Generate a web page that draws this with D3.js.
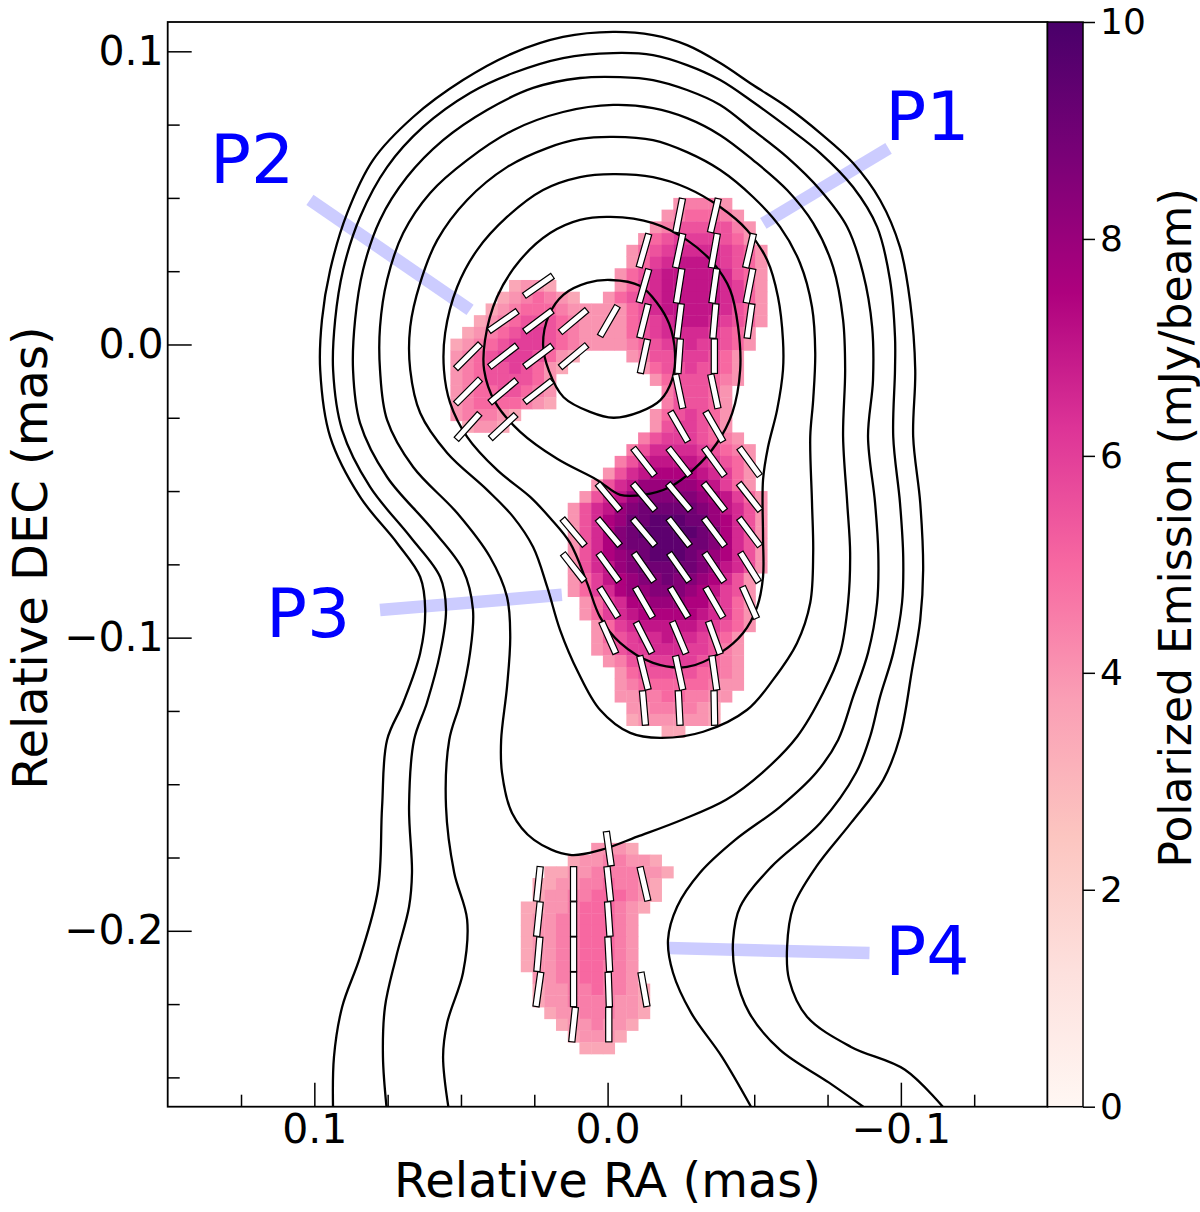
<!DOCTYPE html>
<html>
<head>
<meta charset="utf-8">
<script src="https://cdn.jsdelivr.net/npm/d3@7"></script>
<style>
  body { margin: 0; background: #fff; }
  text { font-family: "DejaVu Sans", sans-serif; }
</style>
</head>
<body>
<svg id="chart"></svg>
<script>

var width = 1200;
var height = 1212;

//..................................................................................//
// data

// axis ranges in mas, RA grows to the left
var raRange = [0.15, -0.15];
var decRange = [-0.26, 0.11];
var raTicks = [0.1, 0.0, -0.1];
var decTicks = [0.1, 0.0, -0.1, -0.2];
var cbarRange = [0, 10];
var cbarTicks = [0, 2, 4, 6, 8, 10];

var raLabel = "Relative RA (mas)";
var decLabel = "Relative DEC (mas)";
var cbarLabel = "Polarized Emission (mJy/beam)";

// polarized intensity map: cells of 0.004 mas
// [row (dec = row * step), [[first column (ra = col * step + raShift), letters westward]]]
// letter value = (code - 'a') / 2 mJy/beam
var step = 0.004;
var raShift = -0.0004;
var polRows = [
    [12, [[-6, "ijjji"]]],
    [11, [[-5, "ijkkkji"]]],
    [10, [[-4, "ijlllllji"]]],
    [9, [[-3, "iklmmmmlki"]]],
    [8, [[-2, "iklmnnnnmlki"]]],
    [7, [[-2, "ikmnooonmlki"]]],
    [6, [[-1, "iklnooooonlki"]]],
    [5, [[8, "hiih"], [-1, "ikmnooooonmki"]]],
    [4, [[9, "hijkjih"], [0, "iklmnooooonmki"]]],
    [3, [[10, "hijkkkji" + "iii" + "iklnooooonlki"]]],
    [2, [[11, "hijklllkj" + "iii" + "iklmnooonmlki"]]],
    [1, [[12, "hijklmmlkj" + "iii" + "iklmnnnnmlki"]]],
    [0, [[13, "hijklmmmlkj" + "iii" + "ijklmmnmmlki"]]],
    [-1, [[13, "ijklmmmlkih"], [-2, "ijllmmmlki"]]],
    [-2, [[13, "ijkllmlkih"], [-3, "ikllmllki"]]],
    [-3, [[13, "ijkllllki"], [-4, "iklllkji"]]],
    [-4, [[13, "ijkkllkji"], [-5, "jlllki"]]],
    [-5, [[13, "ijkkkkjih"], [-5, "jlllki"]]],
    [-6, [[13, "ijjjih"], [-4, "iklmlki"]]],
    [-7, [[12, "hiih"], [-4, "ilmmlki"]]],
    [-8, [[-3, "jlmmmlkji"]]],
    [-9, [[-2, "jlnnnnmlkji"]]],
    [-10, [[-1, "jlnoooonmlki"]]],
    [-11, [[0, "ilnopppponmki"]]],
    [-12, [[1, "ilnoqqqqqpomki"]]],
    [-13, [[2, "ilnoqrrrrrqpomki"]]],
    [-14, [[3, "ilnoqrsssssrqonli"]]],
    [-15, [[3, "ilnpqsstttssqpnli"]]],
    [-16, [[3, "ilnprstttttsrpnli"]]],
    [-17, [[3, "ilnprsstttssrpnli"]]],
    [-18, [[3, "ilnpqrstttsrqpnli"]]],
    [-19, [[3, "ilnoqrsssssrqonli"]]],
    [-20, [[3, "ikmopqrrsrrqpnli"]]],
    [-21, [[3, "ikmnpqqrrrqpomli"]]],
    [-22, [[2, "ikmnppqqqppnmki"]]],
    [-23, [[2, "ikmnoppppponmki"]]],
    [-24, [[1, "ikmnooooonmlki"]]],
    [-25, [[1, "iklmnnonnmlki"]]],
    [-26, [[1, "ijlmmnnnmmlji"]]],
    [-27, [[0, "ijllmmmmlkji"]]],
    [-28, [[-1, "iklllllkkji"]]],
    [-29, [[-1, "ijkkkkkkjii"]]],
    [-30, [[-1, "iijjkkjjii"]]],
    [-31, [[-2, "iijjjjih"]]],
    [-32, [[-2, "hiiiiiih"]]],
    [-33, [[-5, "hh"]]],
    [-43, [[1, "iiih"]]],
    [-44, [[3, "hiijjiih"]]],
    [-45, [[5, "hhiijjjjiih"]]],
    [-46, [[6, "hhiijjkjjih"]]],
    [-47, [[6, "hiijjkkkjih"]]],
    [-48, [[7, "hhiijkkkjih"]]],
    [-49, [[7, "hiijjkkkji"]]],
    [-50, [[7, "hiijjkkkji"]]],
    [-51, [[7, "hiijjkkkji"]]],
    [-52, [[7, "hiijjkkkji"]]],
    [-53, [[7, "hiijjkkjji"]]],
    [-54, [[6, "iijjkkjji"]]],
    [-55, [[6, "hiijjkjjih"]]],
    [-56, [[6, "hiijjjjiih"]]],
    [-57, [[5, "hiijjjiih"]]],
    [-58, [[4, "hiijiih"]]],
    [-59, [[3, "hiiih"]]],
    [-60, [[2, "hhh"]]]
];

// EVPA sticks, degrees from north through east, on every third cell
var evpaCols = [12, 9, 6, 3, 0, -3, -6, -9, -12];
var evpaRows = [
    [11, [null, null, null, null, null, null, -11, -13, null]],
    [8, [null, null, null, null, null, -16, -12, -10, -13]],
    [5, [null, null, -55, null, null, -16, -9, -8, -11]],
    [2, [null, -55, -53, -50, -30, -14, -7, -5, -8]],
    [-1, [-45, -52, -53, -50, null, -12, -4, 0, null]],
    [-4, [-45, -50, -52, null, null, null, 12, 12, null]],
    [-7, [-42, -47, null, null, null, null, 30, 30, null]],
    [-10, [null, null, null, null, null, 38, 38, 36, 36]],
    [-13, [null, null, null, null, 40, 40, 40, 38, 38]],
    [-16, [null, null, null, 40, 40, 40, 38, 37, 37]],
    [-19, [null, null, null, 38, 36, 35, 35, 34, 32]],
    [-22, [null, null, null, null, 32, 30, 31, 30, 24]],
    [-25, [null, null, null, null, 24, 27, 23, 20, null]],
    [-28, [null, null, null, null, null, 14, 12, 8, null]],
    [-31, [null, null, null, null, null, 5, 3, 1, null]],
    [-43, [null, null, null, null, 8, null, null, null, null]],
    [-46, [null, null, -6, 0, 6, 13, null, null, null]],
    [-49, [null, null, -6, 0, 4, null, null, null, null]],
    [-52, [null, null, -5, 0, 3, null, null, null, null]],
    [-55, [null, null, -8, 0, 2, 10, null, null, null]],
    [-58, [null, null, null, -6, 0, null, null, null, null]]
];

// total intensity contours, vertices in micro-arcsec [ra, dec]
var ring1 = [[-1, 22], [-11, 20], [-17, 14], [-21, 7], [-23, -3], [-22, -12], [-18, -19], [-11, -23], [-2, -25], [6, -23], [15, -18], [20, -9], [22, 0], [20, 10], [15, 17], [7, 21]];
var ring2 = [[-1, 43.5], [-15.5, 41.4], [-27.1, 35.6], [-36, 27.8], [-41.8, 18.6], [-44.5, 6], [-45.2, -8.7], [-42.5, -23.4], [-37.3, -33.6], [-29.2, -42.8], [-21.3, -48.6], [-12.1, -51.3], [-4.3, -51.3], [3.6, -46.2], [17.2, -39], [29.8, -29.8], [38.4, -19.6], [42.1, -8.7], [41.8, 1.5], [37.7, 16.2], [29.8, 28.8], [19.6, 38], [9.4, 42.5]];
var ring3 = [[-1.9, 58.1], [-15.5, 57.1], [-27.1, 53.4], [-38.4, 46.9], [-47.6, 39], [-54.4, 28.8], [-58.1, 16.2], [-59.8, 1.5], [-59.8, -8.7], [-57.8, -22.3], [-54.7, -35], [-53, -46.2], [-53, -65.6], [-53, -79.3], [-51, -89.5], [-46.2, -98.4], [-38.4, -105.2], [-27.1, -110], [-15.5, -108.6], [-4.3, -101.8], [2.6, -92.9], [7, -81.3], [12.8, -67.7], [19.6, -59.2], [26.4, -52], [37.7, -42.8], [47.9, -31.5], [53.7, -19.9], [55.8, -8.7], [55.4, 3.9], [51.3, 19.6], [44.5, 32.2], [34.3, 43.5], [22, 52.7], [9.4, 57.1]];
var ring4 = [[-1.9, 70.8], [-15.5, 69.7], [-27.1, 65.6], [-38.4, 59.5], [-49.6, 50.3], [-58.8, 40.1], [-65.6, 27.8], [-69.7, 12.8], [-70.8, -2.9], [-70.1, -18.9], [-69.1, -31.5], [-69.7, -54], [-70.1, -71.1], [-69.1, -88.1], [-64.6, -101.8], [-56.4, -114.4], [-47.6, -124.6], [-32.6, -132.1], [-17.9, -134.2], [-7.7, -132.5], [2.6, -124.6], [10.1, -111.7], [16.2, -97.4], [20.6, -82.7], [25.4, -69.1], [32.2, -58.8], [41.1, -49.6], [54.7, -37], [63.9, -23.4], [67.3, -8.7], [67.3, 6], [63.9, 21], [58.1, 35.6], [47.9, 49.3], [34.3, 60.5], [20.6, 67], [9.4, 70.1]];
var ring5 = [[-1.9, 81.7], [-15.5, 80.6], [-27.1, 77.2], [-38.4, 71.4], [-49.6, 62.9], [-61.2, 52.7], [-70.1, 41.4], [-76.9, 26.4], [-80.3, 8.4], [-81, -8.7], [-80.3, -31.5], [-81.7, -54], [-82.7, -71.1], [-82, -88.1], [-79.3, -105.2], [-73.5, -118.8], [-64.6, -133.8], [-52.7, -146.1], [-40.4, -155.3], [-25.4, -162.1], [-10.1, -167.9], [2.2, -172.4], [12.8, -174.1], [25.1, -169], [32.6, -159.8], [36, -146.1], [36.3, -134.9], [34.3, -116.8], [33.2, -99.7], [34.3, -86.1], [40.1, -72.5], [51.3, -57.5], [66.3, -41.8], [75.2, -25.7], [77.6, -8.7], [77.6, 6], [75.2, 22], [69.7, 38], [60.5, 51.7], [47.9, 62.9], [32.2, 73.1], [15.2, 79.3]];
var ring6 = [[54, -262], [56.1, -243], [54.7, -231.4], [49.3, -214.3], [47.9, -196.2], [52.3, -180.2], [55.1, -157.7], [54, -134.9], [50.3, -122.2], [46.9, -105.2], [45.9, -90.5], [49.3, -76.9], [60.5, -62.2], [75.2, -45.2], [84.4, -26.8], [86.8, -8.7], [86.1, 8.4], [83.4, 25.4], [77.6, 42.5], [68.4, 57.1], [56.1, 69.7], [41.1, 80], [25.4, 87.5], [9.4, 90.9], [-4.3, 91.2], [-15.5, 90.2], [-27.1, 86.8], [-38.4, 81.7], [-49.6, 73.1], [-61.2, 63.9], [-72.5, 52.7], [-81.7, 40.1], [-87.1, 24.4], [-90.2, 6], [-90.5, -12.1], [-88.8, -31.5], [-91.2, -54], [-92.3, -71.1], [-91.9, -88.1], [-88.8, -105.2], [-83.7, -120.2], [-78.6, -134.9], [-71.1, -146.1], [-58.8, -157.7], [-43.5, -169], [-31.5, -180.2], [-23.7, -191.8], [-20.6, -203.1], [-22.3, -214.3], [-28.5, -228], [-39, -243], [-50, -262]];
var ring7 = [[75.2, -262], [76.6, -243], [75.9, -225.9], [72.1, -208.9], [67.7, -191.8], [66.7, -180.2], [67.7, -157.7], [66, -134.9], [61.6, -122.2], [57.1, -105.2], [55.1, -90.5], [57.1, -79.3], [67.3, -65.6], [81, -48.6], [90.5, -29.2], [93.6, -8.7], [92.9, 8.4], [90.2, 25.4], [84.4, 43.5], [75.2, 60.5], [62.9, 74.2], [46.9, 85.8], [32.2, 92.6], [15.2, 97.7], [-1.9, 99.4], [-15.5, 98.7], [-27.1, 95.3], [-38.4, 90.2], [-49.6, 82.7], [-61.2, 74.2], [-72.5, 65.3], [-83.7, 53.7], [-91.9, 40.1], [-96.3, 22], [-98, 2.6], [-98, -8.7], [-97.4, -31.5], [-99.7, -54], [-100.8, -72.5], [-100.4, -88.1], [-97.4, -105.2], [-92.9, -120.2], [-89.5, -133.8], [-84.7, -146.1], [-72.5, -163.2], [-55.8, -178.2], [-45.2, -191.8], [-42.8, -203.1], [-43.5, -214.3], [-48.3, -228], [-58.8, -240.6], [-75.5, -251.8], [-90, -262]];
var ring8 = [[93.6, -262], [93.3, -243], [90.5, -225.9], [84.4, -208.9], [78.3, -186], [76.9, -157.7], [75.2, -134.9], [69.7, -122.2], [63.9, -105.2], [62.2, -90.5], [63.9, -79.3], [71.8, -67.7], [84.4, -52], [94.6, -31.5], [98, -8.7], [97.4, 8.4], [94.6, 25.4], [88.8, 44.8], [80, 62.9], [66.3, 77.6], [49.3, 90.2], [32.2, 99.4], [15.2, 104.9], [-1.9, 106.6], [-15.5, 105.5], [-27.1, 102.1], [-38.4, 96], [-49.6, 88.5], [-61.2, 81], [-72.5, 72.1], [-83.7, 61.9], [-92.9, 49.3], [-99.7, 33.2], [-103.2, 14.2], [-104.9, -8.7], [-104.2, -31.5], [-106.6, -54], [-107.6, -76.9], [-106.6, -94], [-103.8, -111], [-99.7, -133.8], [-94, -148.5], [-83, -163.2], [-71.1, -178.2], [-63.3, -191.8], [-61.2, -205.5], [-61.9, -216.7], [-68, -229.3], [-83, -239.6], [-101.4, -247.4], [-116, -262]];
var closedRings = [ring1, ring2, ring3, ring4, ring5];
var openRings = [ring6, ring7, ring8];

// component labels, positions in mas
var labelNames = ["P1", "P2", "P3", "P4"];
var labelText = [[-0.0947, 0.0698], [0.1356, 0.0550], [0.1165, -0.0997], [-0.0947, -0.2150]];
var labelLineFrom = [[-0.0531, 0.0413], [0.1015, 0.0493], [0.0776, -0.0906], [-0.0208, -0.2059]];
var labelLineTo = [[-0.0958, 0.0669], [0.0469, 0.0118], [0.0156, -0.0854], [-0.0893, -0.2076]];

//..................................................................................//

var svg = d3.select('#chart')
    .attr('width', width)
    .attr('height', height);

var x = d3.scaleLinear().domain(raRange).range([167.7, 1047.5]);
var y = d3.scaleLinear().domain(decRange).range([1106.7, 22]);

var rdpu = ['#fff7f3', '#fde0dd', '#fcc5c0', '#fa9fb5', '#f768a1', '#dd3497', '#ae017e', '#7a0177', '#49006a'];
var color = d3.scaleLinear()
    .domain(rdpu.map(function (d, i) { return cbarRange[0] + i * (cbarRange[1] - cbarRange[0]) / 8; }))
    .range(rdpu)
    .clamp(true);

var defs = svg.append('defs');
defs.append('clipPath').attr('id', 'plotClip')
    .append('rect')
    .attr('x', x.range()[0]).attr('y', y.range()[1])
    .attr('width', x.range()[1] - x.range()[0])
    .attr('height', y.range()[0] - y.range()[1]);

var plot = svg.append('g').attr('clip-path', 'url(#plotClip)');

// guide lines for the labels
plot.selectAll('line.guide')
    .data(labelNames)
    .enter()
    .append('line')
    .attr('x1', function (d, i) { return x(labelLineFrom[i][0]); })
    .attr('y1', function (d, i) { return y(labelLineFrom[i][1]); })
    .attr('x2', function (d, i) { return x(labelLineTo[i][0]); })
    .attr('y2', function (d, i) { return y(labelLineTo[i][1]); })
    .attr('stroke', '#ccccff')
    .attr('stroke-width', 12.5);

// polarized intensity cells
var cells = [];
polRows.forEach(function (row) {
    row[1].forEach(function (seg) {
        seg[1].split('').forEach(function (ch, k) {
            if (ch === '.') return;
            cells.push({
                ra: (seg[0] - k) * step + raShift,
                dec: row[0] * step,
                v: (ch.charCodeAt(0) - 97) / 2
            });
        });
    });
});

plot.selectAll('rect.cell')
    .data(cells)
    .enter()
    .append('rect')
    .attr('x', function (d) { return x(d.ra + step / 2); })
    .attr('y', function (d) { return y(d.dec + step / 2); })
    .attr('width', function (d) { return x(d.ra - step / 2) - x(d.ra + step / 2) + 0.4; })
    .attr('height', function (d) { return y(d.dec - step / 2) - y(d.dec + step / 2) + 0.4; })
    .attr('fill', function (d) { return color(d.v); });

// contours
var ringLine = d3.line()
    .x(function (d) { return x(d[0] / 1000); })
    .y(function (d) { return y(d[1] / 1000); });

plot.selectAll('path.closed')
    .data(closedRings)
    .enter()
    .append('path')
    .attr('d', ringLine.curve(d3.curveCatmullRomClosed.alpha(0.5)))
    .attr('fill', 'none')
    .attr('stroke', '#000')
    .attr('stroke-width', 2.3);

plot.selectAll('path.open')
    .data(openRings)
    .enter()
    .append('path')
    .attr('d', ringLine.curve(d3.curveCatmullRom.alpha(0.5)))
    .attr('fill', 'none')
    .attr('stroke', '#000')
    .attr('stroke-width', 2.3);

// EVPA sticks
var sticks = [];
evpaRows.forEach(function (row) {
    row[1].forEach(function (a, j) {
        if (a === null) return;
        sticks.push({ ra: evpaCols[j] * step + raShift, dec: row[0] * step, a: a });
    });
});

var stickLen = 34.5, stickW = 6.2;
plot.selectAll('rect.stick')
    .data(sticks)
    .enter()
    .append('rect')
    .attr('transform', function (d) {
        return 'translate(' + x(d.ra) + ',' + y(d.dec) + ') rotate(' + (-d.a) + ')';
    })
    .attr('x', -stickW / 2)
    .attr('y', -stickLen / 2)
    .attr('width', stickW)
    .attr('height', stickLen)
    .attr('fill', '#fff')
    .attr('stroke', '#000')
    .attr('stroke-width', 1.2);

// component labels
svg.selectAll('text.comp')
    .data(labelNames)
    .enter()
    .append('text')
    .attr('x', function (d, i) { return x(labelText[i][0]); })
    .attr('y', function (d, i) { return y(labelText[i][1]); })
    .attr('fill', '#0000ff')
    .attr('font-size', 68)
    .text(function (d) { return d; });

//..................................................................................//
// axes

var fmt = d3.format('.1f');

function styleAxis(size) {
    return function (g) {
        g.select('.domain').remove();
        g.selectAll('.tick line').attr('stroke', '#000').attr('stroke-width', 1.5);
        g.selectAll('.tick text').attr('font-size', size).attr('fill', '#000')
            .attr('font-family', '"DejaVu Sans", sans-serif');
    };
}

var raMinor = d3.range(-5, 6).filter(function (i) { return i % 4 !== 0; }).map(function (i) { return i * 0.025; });
var decMinor = d3.range(-10, 5).filter(function (i) { return i % 4 !== 0; }).map(function (i) { return i * 0.025; });

svg.append('g')
    .attr('transform', 'translate(0,' + y.range()[0] + ')')
    .call(d3.axisBottom(x).tickValues(raMinor).tickFormat('').tickSizeInner(-12).tickSizeOuter(0))
    .call(styleAxis(41));

svg.append('g')
    .attr('transform', 'translate(0,' + y.range()[0] + ')')
    .call(d3.axisBottom(x).tickValues(raTicks).tickFormat(fmt).tickSizeInner(-24).tickSizeOuter(0).tickPadding(7))
    .call(styleAxis(41));

svg.append('g')
    .attr('transform', 'translate(' + x.range()[0] + ',0)')
    .call(d3.axisLeft(y).tickValues(decMinor).tickFormat('').tickSizeInner(-12).tickSizeOuter(0))
    .call(styleAxis(41));

svg.append('g')
    .attr('transform', 'translate(' + x.range()[0] + ',0)')
    .call(d3.axisLeft(y).tickValues(decTicks).tickFormat(fmt).tickSizeInner(-24).tickSizeOuter(0).tickPadding(4))
    .call(styleAxis(41));

// frame
svg.append('rect')
    .attr('x', x.range()[0]).attr('y', y.range()[1])
    .attr('width', x.range()[1] - x.range()[0])
    .attr('height', y.range()[0] - y.range()[1])
    .attr('fill', 'none')
    .attr('stroke', '#000')
    .attr('stroke-width', 1.8);

svg.append('text')
    .attr('x', (x.range()[0] + x.range()[1]) / 2)
    .attr('y', 1197)
    .attr('text-anchor', 'middle')
    .attr('font-size', 48)
    .text(raLabel);

svg.append('text')
    .attr('transform', 'translate(47,' + 558 + ') rotate(-90)')
    .attr('text-anchor', 'middle')
    .attr('font-size', 48)
    .text(decLabel);

//..................................................................................//
// colorbar

var cb = { x0: 1047.5, x1: 1083 };
var cScale = d3.scaleLinear().domain(cbarRange).range([y.range()[0], y.range()[1]]);

var grad = defs.append('linearGradient')
    .attr('id', 'cbarGrad')
    .attr('x1', 0).attr('y1', 1).attr('x2', 0).attr('y2', 0);
grad.selectAll('stop')
    .data(rdpu)
    .enter()
    .append('stop')
    .attr('offset', function (d, i) { return i / 8; })
    .attr('stop-color', function (d) { return d; });

svg.append('rect')
    .attr('x', cb.x0).attr('y', cScale(cbarRange[1]))
    .attr('width', cb.x1 - cb.x0)
    .attr('height', cScale(cbarRange[0]) - cScale(cbarRange[1]))
    .attr('fill', 'url(#cbarGrad)')
    .attr('stroke', '#000')
    .attr('stroke-width', 1.5);

svg.append('g')
    .attr('transform', 'translate(' + cb.x1 + ',0)')
    .call(d3.axisRight(cScale).tickValues(cbarTicks).tickFormat(d3.format('d')).tickSizeInner(12).tickSizeOuter(0).tickPadding(5))
    .call(styleAxis(36));

svg.append('text')
    .attr('transform', 'translate(1191,528) rotate(-90)')
    .attr('text-anchor', 'middle')
    .attr('font-size', 44)
    .text(cbarLabel);

</script>
</body>
</html>
